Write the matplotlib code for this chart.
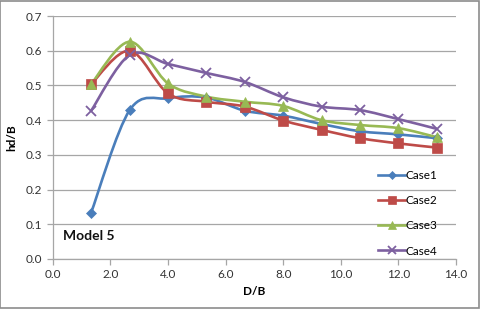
import numpy as np
import matplotlib
matplotlib.use("Agg")
from matplotlib import pyplot as plt
from matplotlib.path import Path
from matplotlib.patches import PathPatch, Rectangle
from matplotlib.lines import Line2D

plt.rcParams['font.family'] = ['Lato', 'DejaVu Sans']

d_over_b = [1.33, 2.67, 4.0, 5.33, 6.67, 8.0, 9.33, 10.67, 12.0, 13.33]
case1 = [0.133, 0.429, 0.463, 0.465, 0.427, 0.413, 0.389, 0.368, 0.359, 0.348]
case2 = [0.504, 0.600, 0.477, 0.453, 0.439, 0.399, 0.372, 0.348, 0.333, 0.321]
case3 = [0.504, 0.626, 0.506, 0.468, 0.453, 0.441, 0.400, 0.386, 0.377, 0.351]
case4 = [0.427, 0.588, 0.562, 0.536, 0.510, 0.466, 0.439, 0.429, 0.403, 0.375]
names = ["Case1", "Case2", "Case3", "Case4"]

colors = ["#4A7EBB", "#BE4B48", "#98B954", "#7D60A0"]
markers = ["D", "s", "^", "x"]
msizes = [5, 7, 7, 7]


def smooth_path(x, y):
    # Excel-style smoothed line: cubic Bezier segments (Catmull-Rom tangents)
    x = np.asarray(x, float)
    y = np.asarray(y, float)
    n = len(x)
    verts = [(x[0], y[0])]
    codes = [Path.MOVETO]
    for i in range(n - 1):
        x0, y0 = (x[i - 1], y[i - 1]) if i > 0 else (x[i], y[i])
        x3, y3 = (x[i + 2], y[i + 2]) if i + 2 < n else (x[i + 1], y[i + 1])
        c1 = (x[i] + (x[i + 1] - x0) / 6, y[i] + (y[i + 1] - y0) / 6)
        c2 = (x[i + 1] - (x3 - x[i]) / 6, y[i + 1] - (y3 - y[i]) / 6)
        verts += [c1, c2, (x[i + 1], y[i + 1])]
        codes += [Path.CURVE4] * 3
    return Path(verts, codes)


fig = plt.figure(figsize=(4.8, 3.09), dpi=100)
ax = fig.add_axes([0.110, 0.162, 0.840, 0.786])

handles = []
for ys, c, m, ms, name in zip([case1, case2, case3, case4], colors, markers, msizes, names):
    ax.add_patch(PathPatch(smooth_path(d_over_b, ys), facecolor="none",
                           edgecolor=c, lw=1.9, zorder=3))
    mew = 1.3 if m == "x" else 0.5
    ax.plot(d_over_b, ys, linestyle="none", marker=m, ms=ms, color=c,
            mec=c, mew=mew, zorder=4)
    handles.append(Line2D([], [], color=c, lw=1.9, marker=m, ms=ms * 0.8, mew=mew))

ax.set_xlim(0, 14)
ax.set_ylim(0, 0.7)
ax.set_xticks(np.arange(0, 14.1, 2))
ax.set_yticks(np.arange(0, 0.71, 0.1))
ax.xaxis.set_major_formatter(matplotlib.ticker.FormatStrFormatter("%.1f"))
ax.yaxis.set_major_formatter(matplotlib.ticker.FormatStrFormatter("%.1f"))
ax.grid(axis="y", color="#A6A6A6", lw=0.9)
ax.set_axisbelow(True)
for s in ["top", "right"]:
    ax.spines[s].set_visible(False)
for s in ["left", "bottom"]:
    ax.spines[s].set_color("#A6A6A6")
    ax.spines[s].set_linewidth(0.9)
ax.tick_params(colors="#A6A6A6", labelcolor="#333333", labelsize=8.5,
               length=4, width=0.9)

ax.set_xlabel("D/B", fontsize=8.5, fontweight="bold", labelpad=4)
ax.set_ylabel("hd/B", fontsize=8.5, fontweight="bold", labelpad=6)

ax.text(0.35, 0.066, "Model 5", fontsize=10, fontweight="bold",
        va="center", ha="left", color="#111111")

ax.legend(handles, names, loc="lower right", bbox_to_anchor=(0.975, -0.024),
          frameon=False, fontsize=8.5, handlelength=2.3, handletextpad=0.05,
          labelspacing=1.2, borderaxespad=0.3)

fig.add_artist(Rectangle((0.001, 0.002), 0.997, 0.995, transform=fig.transFigure,
                         fill=False, edgecolor="#8C8C8C", lw=1.2))

fig.savefig("out.png", dpi=100)
